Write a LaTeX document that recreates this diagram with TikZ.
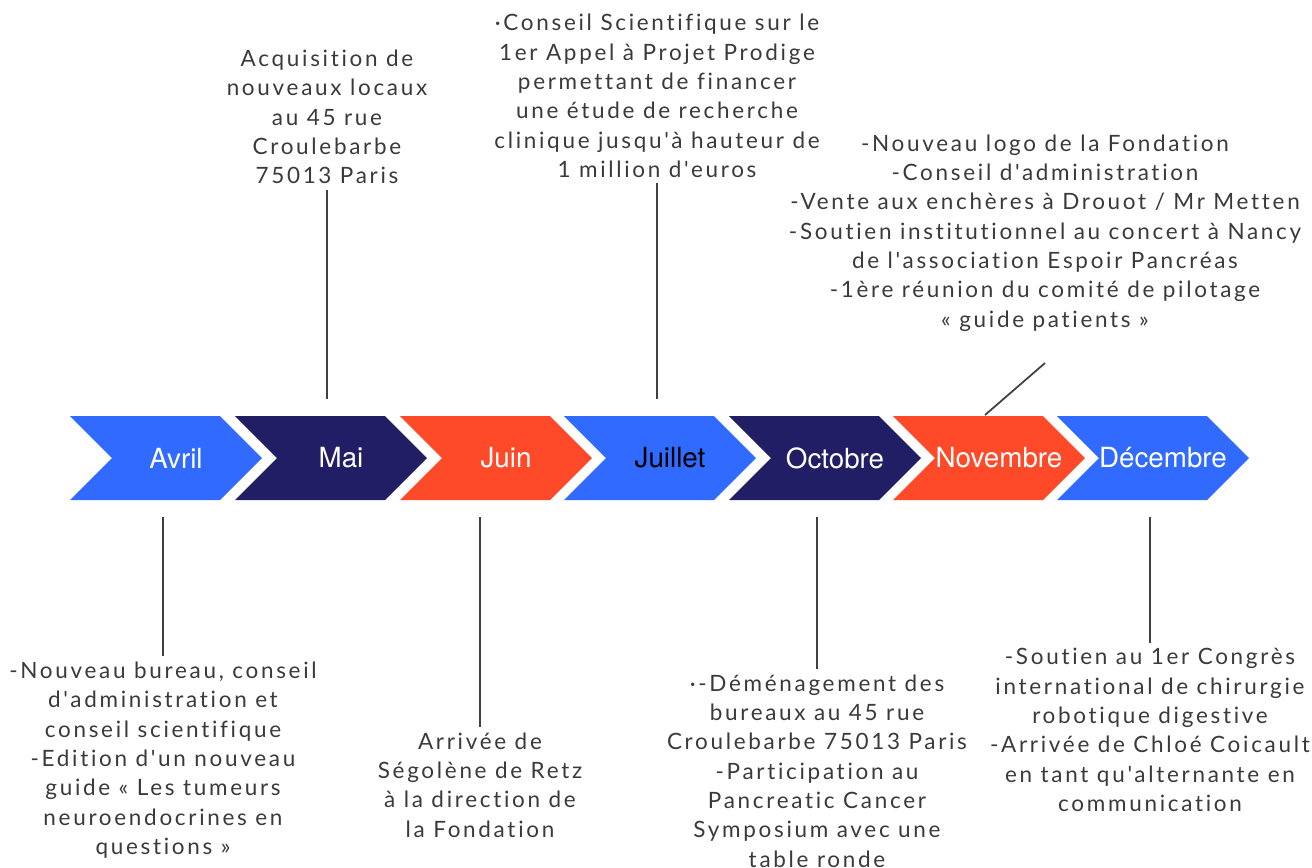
\documentclass[tikz,border=0pt]{standalone}
\usepackage{fontspec}
\usepackage{tikz}
\usetikzlibrary{positioning,calc}
\newfontfamily\eventfont{Lato}[LetterSpace=12,Ligatures={NoCommon,NoContextual}]
\newfontfamily\monthfont{TeX Gyre Heros}
\definecolor{evblue}{HTML}{306AFF}
\definecolor{evnavy}{HTML}{221E66}
\definecolor{evred}{HTML}{FF4A2A}
\definecolor{evtext}{HTML}{3A3A3A}

\begin{document}
\begin{tikzpicture}[
  x=0.02cm,y=-0.02cm,
  month/.style={font=\monthfont\fontsize{15.8}{18}\selectfont,inner sep=0pt},
  hook/.style={minimum width=1cm,minimum height=2.36cm,inner sep=0pt},
  event/.style={font=\eventfont\fontsize{12.8}{16.7}\selectfont,text=evtext,align=center,inner sep=3pt},
  link/.style={draw=black!75,line width=1pt}
  ]
  \useasboundingbox (0,0) rectangle (1312,867);
  % chevrons of the months
  \foreach \x/\col/\txt/\tcol [count=\i] in {70/evblue/Avril/white,235/evnavy/Mai/white,
      400/evred/Juin/white,564/evblue/Juillet/black,729/evnavy/Octobre/white,
      893/evred/Novembre/white,1057/evblue/Décembre/white}{
    \fill[\col] (\x,416) -- ++(150,0) -- ++(42,42) -- ++(-42,42) -- ++(-150,0) -- ++(42,-42) -- cycle;
    \node[month,text=\tcol] (m\i) at (\x+106,458) {\txt};
    \node[hook] (c\i) at (\x+117,458) {};
  }
  % events below
  \node[event] (ev1) at (163,760) {-Nouveau bureau, conseil\\d'administration et\\conseil scientifique\\-Edition d'un nouveau\\guide « Les tumeurs\\neuroendocrines en\\questions »};
  \node[event] (ev3) at (480,785) {Arrivée de\\Ségolène de Retz\\à la direction de\\la Fondation};
  \node[event] (ev5) at (817,771) {·-Déménagement des\\bureaux au 45 rue\\Croulebarbe 75013 Paris\\-Participation au\\Pancreatic Cancer\\Symposium avec une\\table ronde};
  \node[event] (ev7) at (1150,730) {-Soutien au 1er Congrès\\international de chirurgie\\robotique digestive\\-Arrivée de Chloé Coicault\\en tant qu'alternante en\\communication};
  % events above
  \node[event] (ev2) at (327,117) {Acquisition de\\nouveaux locaux\\au 45 rue\\Croulebarbe\\75013 Paris};
  \node[event] (ev4) at (657,96) {·Conseil Scientifique sur le\\1er Appel à Projet Prodige\\permettant de financer\\une étude de recherche\\clinique jusqu'à hauteur de\\1 million d'euros};
  \node[event] (ev6) at (1045,233) {-Nouveau logo de la Fondation\\-Conseil d'administration\\-Vente aux enchères à Drouot / Mr Metten\\-Soutien institutionnel au concert à Nancy\\de l'association Espoir Pancréas\\-1ère réunion du comité de pilotage\\« guide patients »};
  \coordinate (k6) at (985,415);
  \coordinate (t6) at (1045,363);
  % connectors
  \draw[link] (ev1.north |- c1.south) -- (ev1.north);
  \draw[link] (ev3.north |- c3.south) -- (ev3.north);
  \draw[link] (ev5.north |- c5.south) -- (ev5.north);
  \draw[link] (ev7.north |- c7.south) -- (ev7.north);
  \draw[link] (ev2.south |- c2.north) -- (ev2.south);
  \draw[link] (ev4.south |- c4.north) -- (ev4.south);
  \draw[link] (k6) -- (t6);
\end{tikzpicture}
\end{document}
